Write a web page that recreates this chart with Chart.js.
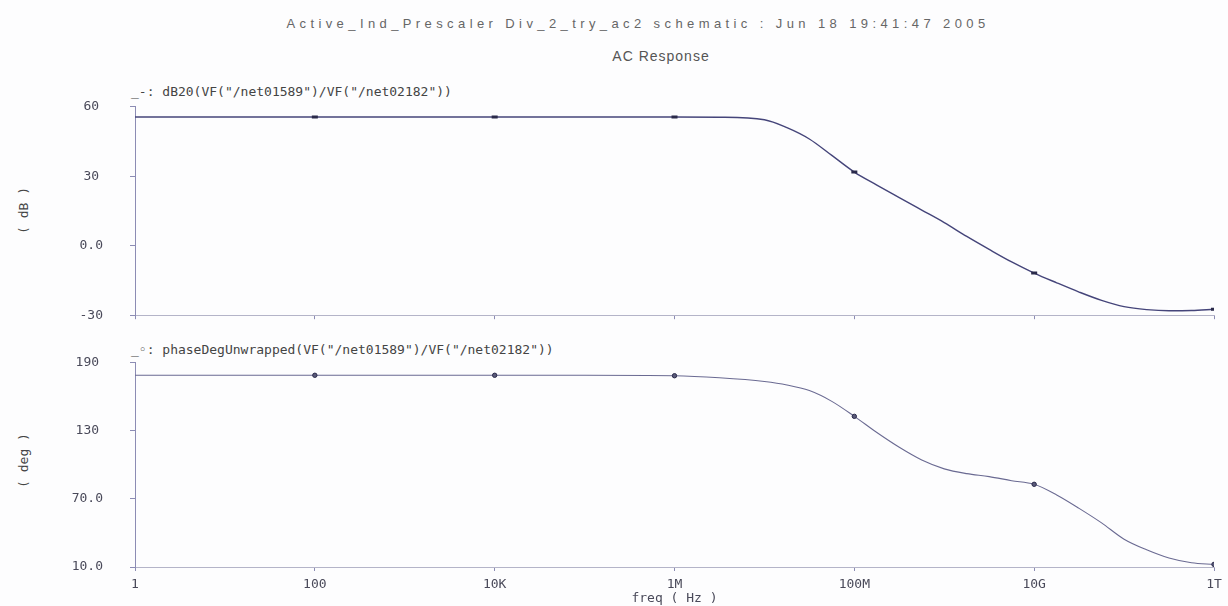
<!DOCTYPE html>
<html>
<head>
<meta charset="utf-8">
<script src="https://cdn.jsdelivr.net/npm/chart.js@4.4.0/dist/chart.umd.min.js"></script>
<style>
  html, body { margin: 0; padding: 0; background: #fdfdfe; }
  body { width: 1228px; height: 606px; position: relative; overflow: hidden; font-family: "DejaVu Sans Mono", monospace; color: #4a4a5a; }
  .abs { position: absolute; white-space: nowrap; }
  #title1 { left: 0; width: 1276px; top: 16px; text-align: center; font: 13px "Liberation Sans", sans-serif; letter-spacing: 4.4px; color: #666; }
  #title2 { left: 0; width: 1322px; top: 48px; text-align: center; font: 14px "Liberation Sans", sans-serif; letter-spacing: 1px; color: #555; }
  .legend { font-size: 13px; color: #444; }
  .ylab { font-size: 13px; color: #444; transform: rotate(-90deg); transform-origin: center; }
  canvas { position: absolute; left: 0; }
</style>
</head>
<body>
<div id="title1" class="abs">Active_Ind_Prescaler Div_2_try_ac2 schematic : Jun 18 19:41:47 2005</div>
<div id="title2" class="abs">AC Response</div>
<div class="abs legend" style="left:131px; top:84px;">_-: dB20(VF("/net01589")/VF("/net02182"))</div>
<div class="abs legend" style="left:131px; top:342px;">_◦: phaseDegUnwrapped(VF("/net01589")/VF("/net02182"))</div>
<div class="abs ylab" style="left:-4px; top:203px; width:54px; text-align:center;">( dB )</div>
<div class="abs ylab" style="left:-6px; top:453px; width:58px; text-align:center;">( deg )</div>

<canvas id="gainChart" width="1228" height="278" style="top:72px;"></canvas>
<canvas id="phaseChart" width="1228" height="278" style="top:328px;"></canvas>

<script>
const $ = (id) => document.getElementById(id);

// frequency points (Hz)
const freqs = [1, 10, 100, 1e3, 1e4, 1e5, 1e6, 3.16e6, 1e7, 1.78e7, 3.16e7, 5.62e7,
  1e8, 1.78e8, 3.16e8, 5.62e8, 1e9, 1.78e9, 3.16e9, 5.62e9,
  1e10, 1.78e10, 3.16e10, 5.62e10, 1e11, 1.78e11, 3.16e11, 5.62e11, 1e12];

// dB20 magnitude
const gainDb = [55.6, 55.6, 55.6, 55.6, 55.6, 55.6, 55.6, 55.5, 54.4, 51.0, 46.1, 39.0,
  31.8, 26.2, 20.8, 15.4, 10.0, 4.0, -1.6, -7.0,
  -11.8, -16.0, -20.0, -23.6, -26.3, -27.6, -28.1, -28.0, -27.4];

// unwrapped phase (deg)
const phaseDeg = [179, 179, 179, 179, 179, 179, 178.6, 176.8, 173.5, 170.5, 165.5, 156,
  142.8, 128.5, 115.5, 104.3, 96.5, 92.3, 89.7, 86.1,
  82.9, 73.5, 61.7, 48.9, 34.5, 25.2, 18.0, 13.8, 12.3];

// markers sit every two decades
const markerFreqs = [100, 1e4, 1e6, 1e8, 1e10, 1e12];

const xTickValues = [1, 1e2, 1e4, 1e6, 1e8, 1e10, 1e12];
const xTickLabels = ['1', '100', '10K', '1M', '100M', '10G', '1T'];
const gainTicks = [-30, 0, 30, 60];
const gainTickLabels = ['-30', '0.0', '30', '60'];
const phaseTicks = [10, 70, 130, 190];
const phaseTickLabels = ['10.0', '70.0', '130', '190'];

const axisColor = '#8c8cb4';
const textColor = '#4a4a5a';
const tickFont = { family: 'DejaVu Sans Mono', size: 13 };

const toPoints = (vals) => freqs.map((f, i) => ({ x: f, y: vals[i] }));
const markerRadius = (r) => freqs.map(f => markerFreqs.includes(f) ? r : 0);

function xScale(showLabels) {
    return {
        type: 'logarithmic',
        min: 1,
        max: 1e12,
        afterBuildTicks: (s) => { s.ticks = xTickValues.map(v => ({ value: v })); },
        afterFit: (s) => { s.height = showLabels ? 39 : 10; },
        ticks: {
            display: showLabels,
            autoSkip: false,
            maxRotation: 0,
            padding: 6,
            color: textColor,
            font: tickFont,
            callback: (v) => xTickLabels[xTickValues.indexOf(v)] ?? ''
        },
        grid: { drawOnChartArea: false, tickLength: 4, color: axisColor },
        border: { display: true, color: '#b4b4c8', dash: [2, 2] },
        title: {
            display: showLabels,
            text: 'freq ( Hz )',
            color: textColor,
            font: tickFont,
            padding: { top: 0, bottom: 0 }
        }
    };
}

function yScale(min, max, values, labels) {
    return {
        min, max,
        afterBuildTicks: (s) => { s.ticks = values.map(v => ({ value: v })); },
        afterFit: (s) => { s.width = 135; },
        ticks: {
            padding: 27,
            crossAlign: 'center',
            color: textColor,
            font: tickFont,
            callback: (v) => labels[values.indexOf(v)] ?? ''
        },
        grid: { drawOnChartArea: false, tickLength: 5, color: axisColor },
        border: { display: true, color: axisColor, dash: [2, 2] }
    };
}

function makeChart(canvas, vals, opts) {
    return new Chart(canvas.getContext('2d'), {
        type: 'line',
        data: {
            datasets: [{
                data: toPoints(vals),
                borderColor: opts.color,
                borderWidth: opts.width,
                cubicInterpolationMode: 'monotone',
                pointRadius: markerRadius(opts.radius),
                pointStyle: opts.pointStyle,
                pointBorderColor: '#2a2a4a',
                pointBackgroundColor: '#5a5a7a',
                pointBorderWidth: opts.pointBorder
            }]
        },
        options: {
            responsive: false,
            animation: false,
            layout: { padding: { left: 0, right: 14, top: 5, bottom: 0 } },
            plugins: { legend: { display: false }, tooltip: { enabled: false } },
            scales: {
                x: xScale(opts.xLabels),
                y: opts.y
            }
        }
    });
}

// magnitude plot
makeChart($('gainChart'), gainDb, {
    color: '#45457a', width: 1.4, radius: 3, pointStyle: 'line', pointBorder: 3,
    xLabels: false,
    y: yScale(-30, 60, gainTicks, gainTickLabels)
});

// phase plot
makeChart($('phaseChart'), phaseDeg, {
    color: '#6a6a92', width: 1.1, radius: 2.2, pointStyle: 'circle', pointBorder: 1,
    xLabels: true,
    y: yScale(10, 190, phaseTicks, phaseTickLabels)
});
</script>
</body>
</html>
